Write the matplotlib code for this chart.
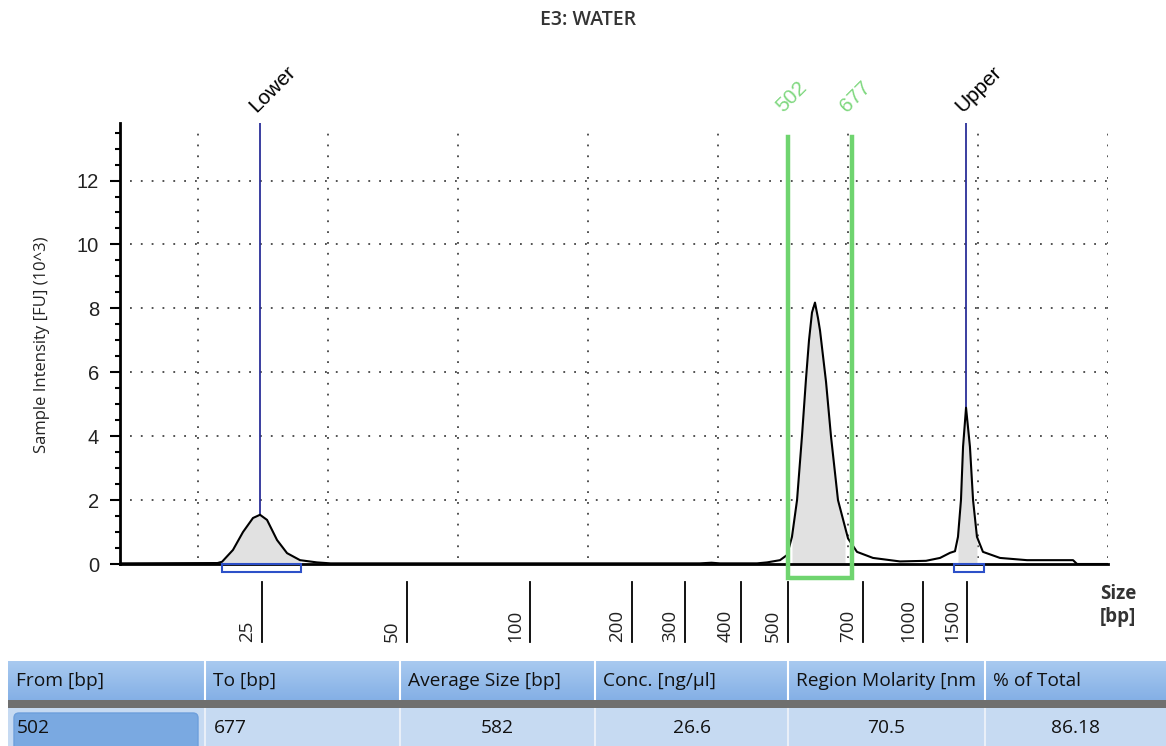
import numpy as np
import matplotlib.pyplot as plt
from matplotlib.patches import Rectangle, FancyBboxPatch
from matplotlib.ticker import MultipleLocator

plt.rcParams['font.family'] = ['Open Sans', 'DejaVu Sans']

title = "E3: WATER"

# electropherogram trace (migration time [s], intensity [FU x 10^3])
time_s = [24.0, 31.5, 31.85, 32.69, 33.46, 34.23, 34.77, 35.31, 36.08, 36.85, 37.85, 39.15, 40.2,
          68.6, 69.5, 70.15, 73.0, 73.77, 74.77, 75.31, 75.69, 76.08, 76.46, 76.77, 77.0, 77.23,
          77.46, 77.69, 77.85, 78.08, 78.31, 78.69, 79.23, 79.77, 80.0, 80.69, 81.92, 84.0, 86.0,
          87.08, 87.85, 88.23, 88.46, 88.69, 88.85, 89.08, 89.38, 89.62, 89.92, 90.38, 91.69,
          93.77, 97.31, 97.62, 100.0]
fu = [0.02, 0.03, 0.07, 0.44, 1.0, 1.44, 1.54, 1.38, 0.75, 0.34, 0.12, 0.05, 0.02,
      0.02, 0.04, 0.02, 0.02, 0.05, 0.12, 0.28, 0.85, 2.0, 4.0, 5.8, 7.0, 7.87,
      8.18, 7.7, 7.3, 6.5, 5.7, 4.0, 2.0, 1.16, 0.8, 0.38, 0.19, 0.08, 0.1,
      0.19, 0.35, 0.4, 0.85, 2.0, 3.67, 4.89, 3.67, 2.0, 0.85, 0.38, 0.19,
      0.12, 0.12, 0.0, 0.0]

size_bp = [25, 50, 100, 200, 300, 400, 500, 700, 1000, 1500]
size_pos = [34.92, 46.08, 55.54, 63.38, 67.46, 71.77, 75.38, 81.15, 85.77, 89.15]

markers = ["Lower", "Upper"]
marker_pos = [34.77, 89.08]
marker_top = [1.54, 4.89]
marker_range = [(31.85, 37.9), (88.15, 90.45)]

region_bp = [502, 677]
region_pos = [75.38, 80.31]
peak_fill = [(31.85, 37.85), (75.45, 79.95), (88.3, 90.2)]

grid_x = [30, 40, 50, 60, 70, 80, 90, 100]
grid_y = [2, 4, 6, 8, 10, 12]

columns = ["From [bp]", "To [bp]", "Average Size [bp]", "Conc. [ng/\u00b5l]",
           "Region Molarity [nm", "% of Total"]
row = ["502", "677", "582", "26.6", "70.5", "86.18"]

W, H = 1166, 746
fig = plt.figure(figsize=(W / 100, H / 100), dpi=100)
fig.patch.set_facecolor('white')
ax = fig.add_axes([120 / W, 1 - 564 / H, 988 / W, 441 / H])
ax.set_xlim(24, 100)
ax.set_ylim(0, 13.8)

# dotted grid
ax.vlines(grid_x, 0.2, 13.6, colors='#444444', linestyles=(0, (1, 5)), lw=1.3, zorder=1)
ax.hlines(grid_y, 24.77, 100, colors='#444444', linestyles=(0, (1, 5)), lw=1.3, zorder=1)

t = np.array(time_s)
y = np.array(fu)
for a, b in peak_fill:
    m = (t >= a) & (t <= b)
    ax.fill_between(t[m], 0, y[m], color='#e1e1e1', lw=0, zorder=2)
ax.plot(t, y, color='black', lw=1.5, zorder=4)

lab_font = ['Liberation Sans', 'DejaVu Sans']

# markers
for name, pos, top, (a, b) in zip(markers, marker_pos, marker_top, marker_range):
    ax.plot([pos, pos], [top, 13.8], color='#2b2f99', lw=1.3, zorder=3)
    ax.add_patch(Rectangle((a, -0.25), b - a, 0.25, fill=False, ec='#2d50c8', lw=1.5,
                           clip_on=False, zorder=5))
    ax.text(pos - 0.3, 1.022, name, transform=ax.get_xaxis_transform(), rotation=45,
            rotation_mode='anchor', ha='left', va='baseline', fontsize=15,
            family=lab_font, color='black')

# region box
x0, x1 = region_pos
ax.plot([x0, x0, x1, x1], [13.35, -0.44, -0.44, 13.35], color='#6fd46f', lw=3.2,
        solid_joinstyle='miter', clip_on=False, zorder=6)
for bp, pos in zip(region_bp, region_pos):
    ax.text(pos - 0.4, 1.022, str(bp), transform=ax.get_xaxis_transform(), rotation=45,
            rotation_mode='anchor', ha='left', va='baseline', fontsize=15,
            family=lab_font, color='#80d880')

# size ladder ticks
for bp, pos in zip(size_bp, size_pos):
    ax.plot([pos, pos], [-0.56, -2.45], color='black', lw=1.3, clip_on=False)
    ax.text(pos - 1.15, -2.45, str(bp), rotation=90, ha='center', va='bottom',
            fontsize=13.5, color='#222222')
ax.text(99.4, -1.3, "Size\n[bp]", ha='left', va='center', fontsize=13.5,
        fontweight='bold', color='#333333', linespacing=1.15)

ax.set_xticks([])
ax.set_yticks([0, 2, 4, 6, 8, 10, 12])
ax.yaxis.set_minor_locator(MultipleLocator(0.5))
ax.tick_params(axis='y', which='major', length=7, width=1.5, pad=8, labelsize=14.5)
ax.tick_params(axis='y', which='minor', length=3.5, width=1.5)
for lab in ax.get_yticklabels():
    lab.set_family(lab_font)
    lab.set_color('#222222')
for s in ['top', 'right']:
    ax.spines[s].set_visible(False)
for s in ['left', 'bottom']:
    ax.spines[s].set_linewidth(2)
ax.set_ylabel("Sample Intensity [FU] (10^3)", fontsize=12, color='#222222')
ax.yaxis.set_label_coords(-0.071, 0.497)

fig.text(588 / W, 1 - 20 / H, title, ha='center', va='center', fontsize=14,
         fontweight='semibold', color='#333333')

# results table
tab = fig.add_axes([0, 0, 1, 91 / H])
tab.set_xlim(0, W)
tab.set_ylim(H, 655)
tab.axis('off')
edges = [8, 205, 400, 595, 788, 985, 1166]
grad = np.linspace(0, 1, 40)[:, None]
hcol = np.array([0.66, 0.79, 0.94]) * (1 - grad[..., None]) + np.array([0.52, 0.69, 0.90]) * grad[..., None]
tab.imshow(hcol.repeat(2, axis=1), extent=(edges[0], W, 700, 661), origin='upper', aspect='auto',
           zorder=1)
tab.add_patch(Rectangle((edges[0], 700), W - edges[0], 8, color='#6f6f6f', lw=0, zorder=2))
tab.add_patch(Rectangle((edges[0], 708), W - edges[0], 40, color='#c6daf2', lw=0, zorder=2))
tab.add_patch(FancyBboxPatch((14, 713), 184, 40, boxstyle='round,pad=0,rounding_size=5',
                             fc='#7aa9e1', ec='#6d9fdc', lw=1, zorder=3))
tab.vlines(edges[1:-1], 661, 700, colors='white', lw=1.5, zorder=3)
tab.vlines(edges[1:-1], 708, 746, colors='#e9eff8', lw=1.5, zorder=3)
for i, name in enumerate(columns):
    tab.text(edges[i] + 8, 681, name, ha='left', va='center', fontsize=13.8, color='#111111',
             zorder=4, clip_on=True)
for i, val in enumerate(row):
    if i < 2:
        tab.text(edges[i] + 9, 728, val, ha='left', va='center', fontsize=13.8, color='#111111',
                 zorder=4)
    else:
        tab.text((edges[i] + edges[i + 1]) / 2, 728, val, ha='center', va='center',
                 fontsize=13.8, color='#111111', zorder=4)

fig.savefig("out.png", dpi=100)
